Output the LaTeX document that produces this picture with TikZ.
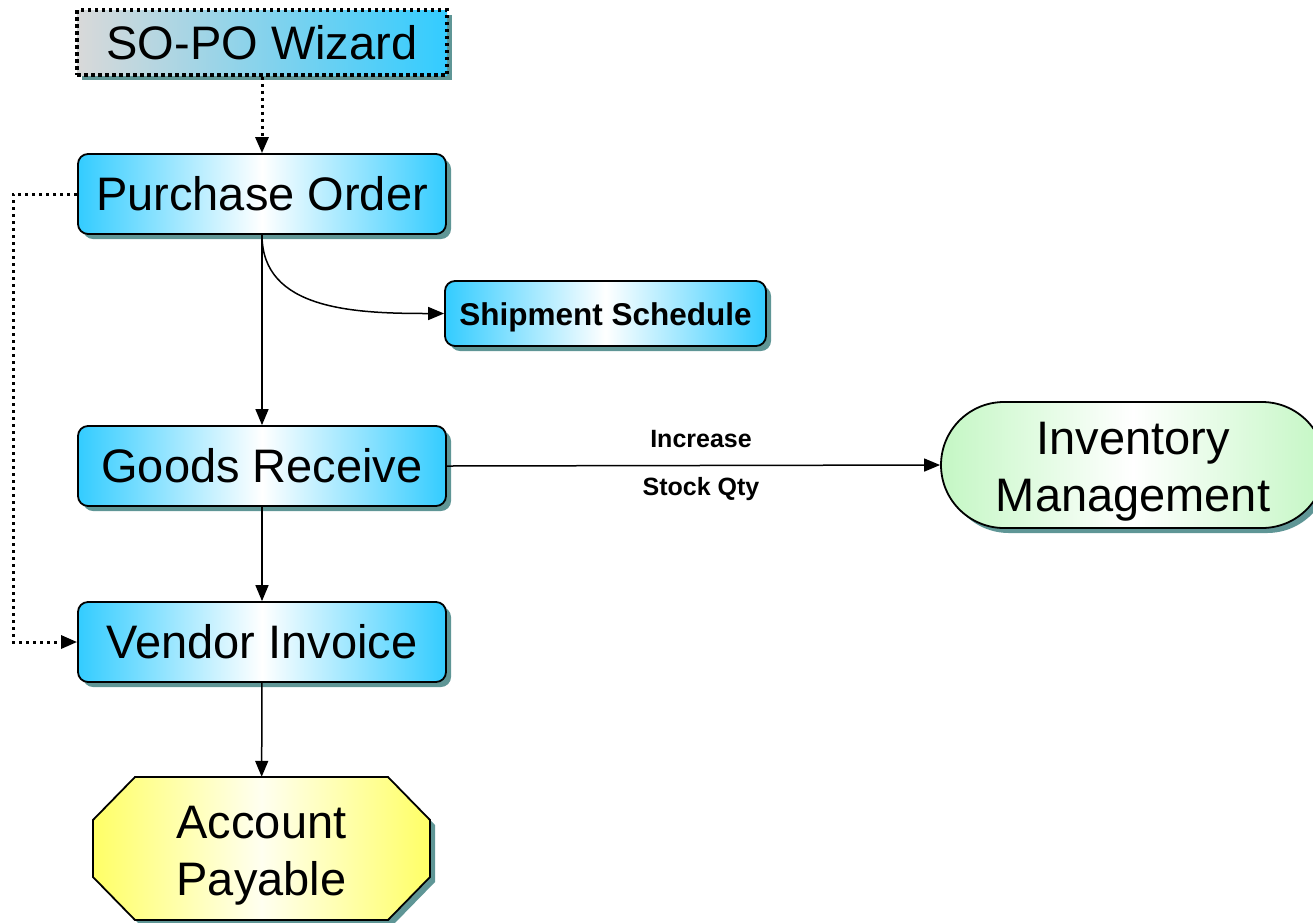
\documentclass[tikz,border=0pt]{standalone}
\usepackage{fontspec}
\setmainfont{Liberation Sans}
\usetikzlibrary{arrows.meta,shadows,shapes.misc}
\definecolor{cyanb}{RGB}{51,204,255}
\definecolor{shad}{RGB}{95,150,150}
\definecolor{grayw}{RGB}{217,217,217}
\definecolor{greenl}{RGB}{196,247,196}
\definecolor{yel}{RGB}{255,255,102}
\definecolor{yelw}{RGB}{255,255,240}
\begin{document}
\begin{tikzpicture}[x=1pt,y=-1pt,
 big/.style={font=\fontsize{47}{57}\selectfont},
 shadowed/.style={drop shadow={shadow xshift=5pt,shadow yshift=-5pt,fill=shad,opacity=1}},
 bluebox/.style={draw, line width=1.8pt, rounded corners=10pt, shadowed, left color=cyanb, right color=cyanb, middle color=white, minimum width=368pt, minimum height=80pt, inner sep=0pt, big},
 arr/.style={-{Triangle[length=16pt,width=13pt]}, line width=1.5pt},
 dotarr/.style={arr, line width=3pt, dash pattern=on 3pt off 4pt},
 lbl/.style={font=\fontsize{25}{30}\selectfont\bfseries}]
\useasboundingbox (0,0) rectangle (1313,922);

\node[draw, line width=3.5pt, dash pattern=on 3.5pt off 3.5pt, shadowed, left color=grayw, right color=cyanb, minimum width=370pt, minimum height=65pt, inner sep=0pt, big] (wiz) at (262,42.5) {SO-PO Wizard};
\node[bluebox] (po) at (262,194) {Purchase Order};
\node[bluebox] (gr) at (262,466) {Goods Receive};
\node[bluebox] (vi) at (262,642) {Vendor Invoice};
\node[bluebox, minimum width=321pt, minimum height=65pt] (ss) at (605.5,313.5) {};
\node[inner sep=0pt, font=\fontsize{31.5}{38}\selectfont\bfseries] (sst) at (605.5,317) {Shipment Schedule};
\node[draw, line width=1.8pt, shadowed, rounded rectangle, left color=greenl, right color=greenl, middle color=white, minimum width=384pt, minimum height=126pt, inner sep=0pt] (inv) at (1133,465) {};
\node[align=center, big, inner sep=0pt] (invt) at (1133,472) {Inventory\\Management};

\path[shadowed, draw, line width=1.8pt, left color=yel, right color=yel, middle color=yelw]
 (135,777) -- (388,777) -- (430,820) -- (430,877) -- (388,920) -- (135,920) -- (93,877) -- (93,820) -- cycle;
\node[minimum width=337pt, minimum height=143pt, inner sep=0pt] (ap) at (261.5,848.5) {};
\node[align=center, big, inner sep=0pt] (apt) at (261.5,855.5) {Account\\Payable};

\node[lbl] (l1) at (701,439) {Increase};
\node[lbl] (l2) at (701,489) {Stock Qty};

\draw[dotarr] (wiz) -- (po);
\draw[arr] (po) -- (gr);
\draw[arr] (gr) -- (vi);
\draw[arr] (vi) -- (ap);
\draw[arr] (po.south) .. controls +(0,75) and +(-90,0) .. (ss.west);
\draw[arr] (gr.east) -- (inv.west);
\draw[dotarr] (po.west) -- ++(-64,0) |- (vi.west);
\end{tikzpicture}
\end{document}
